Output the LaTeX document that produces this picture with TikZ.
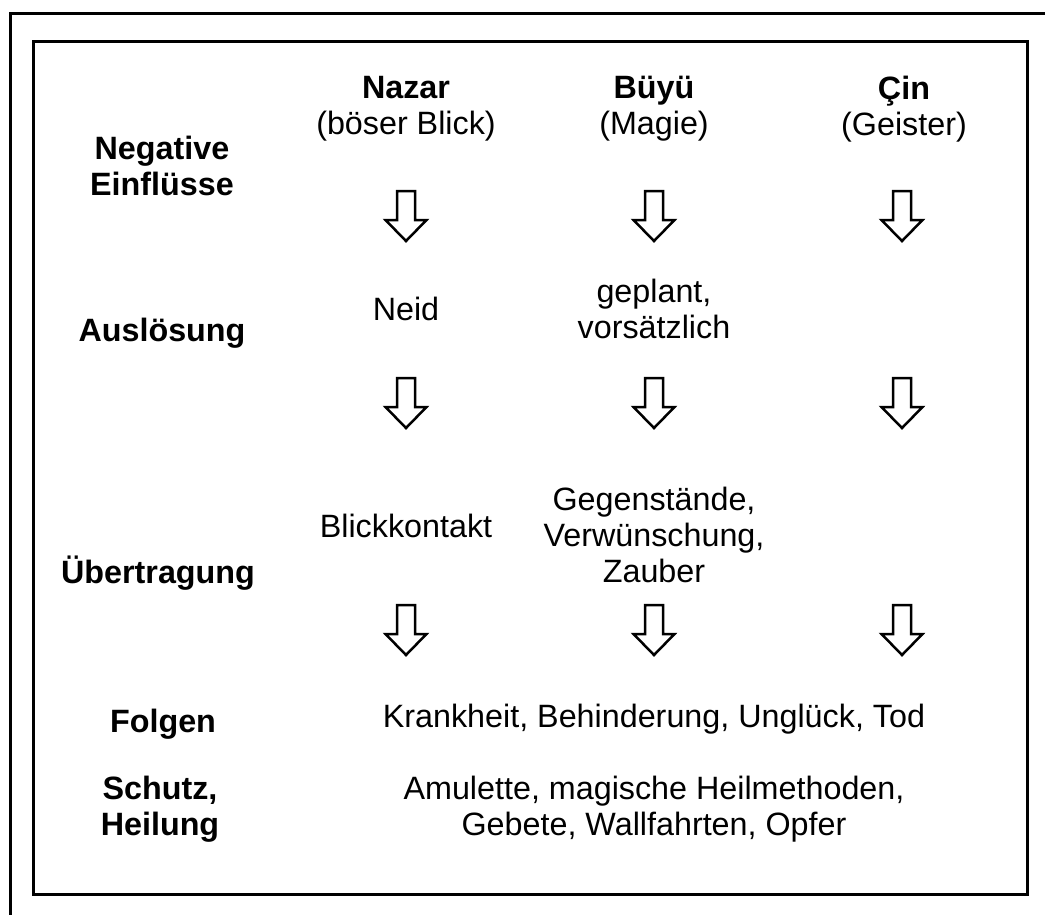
\documentclass[tikz,border=0pt]{standalone}
\usepackage{fontspec}
\setmainfont{Liberation Sans}
\begin{document}
\begin{tikzpicture}[x=1pt,y=-1pt,
  txt/.style={inner sep=0pt,align=center,font=\fontsize{32.3}{36}\selectfont},
  lbl/.style={txt,font=\fontsize{32.3}{36}\selectfont\bfseries},
  frame/.style={line width=3pt},
  downarrow/.pic={\draw[line width=2.5pt,line join=miter,fill=white]
     (-9,0) -- (9,0) -- (9,29) -- (20.5,29) -- (0,50) -- (-20.5,29) -- (-9,29) -- cycle;}]
\useasboundingbox (0,0) rectangle (1045,914);
% frames
\draw[frame] (10,920) -- (10,13) -- (1050,13);
\draw[frame] (33,41) rectangle (1027,894);
% column heads
\node[txt] (nazar) at (406,109) {\textbf{Nazar}\\(böser Blick)};
\node[txt] (buyu) at (654,109) {\textbf{Büyü}\\(Magie)};
\node[txt] (cin) at (904,109) {\textbf{Çin}\\(Geister)};
% row labels
\node[lbl] (neg) at (162,166) {Negative\\Einflüsse};
\node[lbl] (aus) at (162,333) {Auslösung};
\node[lbl] (ueb) at (158,573) {Übertragung};
\node[lbl] (fol) at (163,724) {Folgen};
\node[lbl] (sch) at (160,809) {Schutz,\\Heilung};
% arrows
\foreach \x in {406,654,902}{
  \pic at (\x,191) {downarrow};
  \pic at (\x,378) {downarrow};
  \pic at (\x,605) {downarrow};
}
% contents
\node[txt] (neid) at (406,309) {Neid};
\node[txt] (gepl) at (654,309) {geplant,\\vorsätzlich};
\node[txt] (blick) at (406,526) {Blickkontakt};
\node[txt] (geg) at (654,535) {Gegenstände,\\Verwünschung,\\Zauber};
\node[txt] (folg) at (654,719) {Krankheit, Behinderung, Unglück, Tod};
\node[txt] (schutz) at (654,809) {Amulette, magische Heilmethoden,\\Gebete, Wallfahrten, Opfer};
\end{tikzpicture}
\end{document}
